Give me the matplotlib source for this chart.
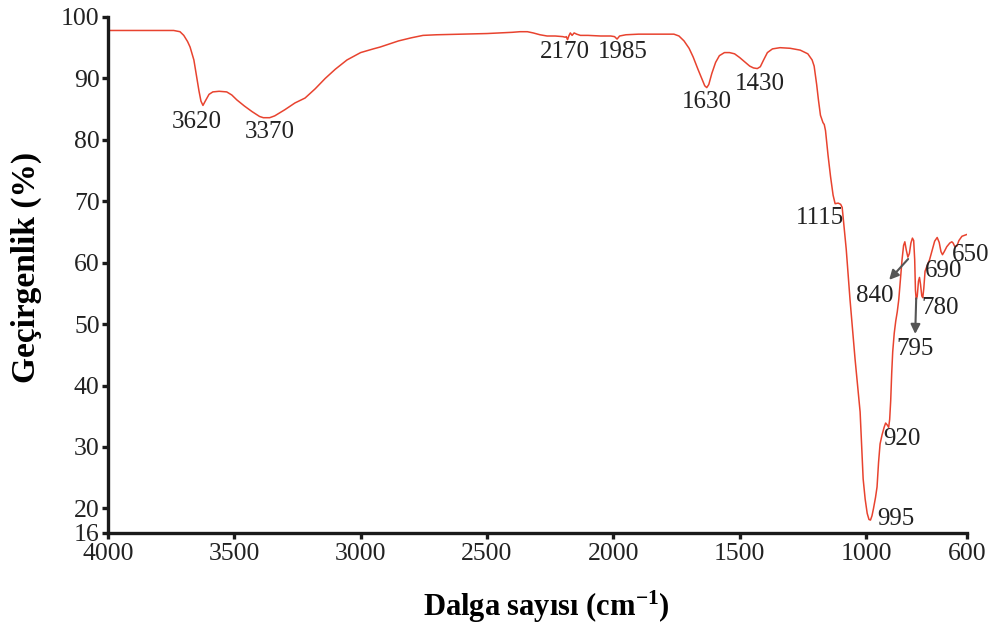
import matplotlib
matplotlib.use("Agg")
import matplotlib.pyplot as plt

plt.rcParams["font.family"] = ["Liberation Serif", "DejaVu Serif"]
plt.rcParams["mathtext.fontset"] = "custom"
plt.rcParams["mathtext.rm"] = "Liberation Serif:bold"
plt.rcParams["mathtext.it"] = "Liberation Serif:bold"
plt.rcParams["mathtext.bf"] = "Liberation Serif:bold"

# FTIR spectrum: wavenumber (cm-1) and transmittance (%)
wavenumber = [
    4000, 3800, 3740, 3715, 3700, 3685, 3675, 3660, 3650, 3640, 3632, 3624,
    3615, 3600, 3585, 3560, 3530, 3510, 3490, 3460, 3430, 3400, 3385, 3360,
    3340, 3300, 3260, 3220, 3180, 3140, 3100, 3054, 3000, 2950, 2923, 2850,
    2800, 2753, 2700, 2600, 2500, 2400, 2369, 2340, 2317, 2290, 2262, 2230,
    2200, 2190, 2186, 2181, 2176, 2170, 2163, 2155, 2145, 2130, 2100, 2050,
    2010, 1995, 1985, 1975, 1950, 1900, 1800, 1760, 1740, 1720, 1700, 1684,
    1665, 1650, 1638, 1630, 1622, 1610, 1595, 1580, 1560, 1540, 1520, 1500,
    1480, 1460, 1445, 1430, 1418, 1405, 1390, 1370, 1340, 1300, 1260, 1230,
    1213, 1205, 1195, 1188, 1180, 1170, 1165, 1160, 1150, 1140, 1130, 1122,
    1110, 1100, 1094, 1078, 1063, 1043, 1023, 1011, 1003, 995, 988, 982,
    976, 970, 962, 956, 950, 944, 936, 928, 922, 916, 910, 906,
    902, 898, 894, 888, 882, 876, 870, 862, 857, 851, 846, 840,
    834, 828, 822, 816, 811, 807, 804, 801, 797, 792, 788, 784,
    779, 775, 771, 766, 758, 748, 738, 728, 718, 710, 703, 697,
    690, 680, 668, 660, 655, 648, 640, 632, 620, 600,
]
transmittance = [
    97.8, 97.8, 97.8, 97.6, 97.0, 96.0, 95.1, 93.0, 90.5, 88.0, 86.3, 85.6,
    86.3, 87.4, 87.8, 87.9, 87.8, 87.3, 86.5, 85.5, 84.6, 83.8, 83.6, 83.6,
    83.9, 84.9, 86.0, 86.8, 88.3, 90.0, 91.5, 93.0, 94.2, 94.8, 95.1, 96.1,
    96.6, 97.0, 97.1, 97.2, 97.3, 97.5, 97.6, 97.6, 97.4, 97.1, 96.9, 96.9,
    96.8, 96.7, 96.8, 96.3, 96.9, 97.4, 97.0, 97.4, 97.2, 97.0, 97.0, 96.9,
    96.9, 96.8, 96.4, 96.9, 97.1, 97.2, 97.2, 97.2, 96.9, 96.1, 94.9, 93.5,
    91.5, 90.0, 88.8, 88.5, 89.0, 90.8, 92.6, 93.7, 94.2, 94.2, 94.0, 93.4,
    92.7, 92.0, 91.7, 91.6, 91.9, 93.0, 94.2, 94.8, 95.0, 94.9, 94.6, 94.0,
    93.0, 92.0, 89.0, 86.5, 84.0, 82.8, 82.5, 81.5, 77.5, 74.0, 71.0, 69.6,
    69.7, 69.5, 69.0, 62.2, 54.0, 44.3, 35.7, 24.8, 21.5, 19.2, 18.2, 18.1,
    18.8, 20.0, 21.8, 23.5, 27.5, 30.5, 32.0, 33.2, 33.9, 33.6, 33.2, 34.5,
    37.5, 42.0, 45.5, 48.5, 50.5, 52.0, 54.0, 58.0, 60.5, 62.8, 63.4, 62.0,
    60.9, 61.5, 63.2, 64.0, 63.6, 60.5, 55.5, 54.0, 54.5, 57.0, 57.6, 56.5,
    54.6, 54.3, 55.8, 58.6, 59.5, 60.5, 62.0, 63.5, 64.1, 63.3, 61.8, 61.3,
    61.8, 62.6, 63.2, 63.4, 63.2, 62.6, 62.7, 63.6, 64.3, 64.6,
]

# Band labels: text and placement (wavenumber, transmittance)
band_labels = ["3620", "3370", "2170", "1985", "1630", "1430", "1115",
               "840", "690", "650", "780", "795", "920", "995"]
label_x = [3648, 3359, 2191, 1961, 1629, 1419, 1181,
           964, 694, 584, 706, 806, 857, 880]
label_y = [82.9, 81.2, 94.3, 94.3, 86.2, 89.1, 67.2,
           54.5, 58.6, 61.2, 52.6, 46.0, 31.3, 18.3]

x_ticks = [4000, 3500, 3000, 2500, 2000, 1500, 1000, 600]
y_ticks = [16, 20, 30, 40, 50, 60, 70, 80, 90, 100]

fig = plt.figure(figsize=(9.97, 6.28), dpi=100)
ax = fig.add_axes([0.1083, 0.1513, 0.8616, 0.8217])

ax.plot(wavenumber, transmittance, color="#e8432f", linewidth=1.1)

ax.set_xlim(4000, 600)
ax.set_ylim(16, 100)
ax.set_xticks(x_ticks)
ax.set_yticks(y_ticks)

for side in ("top", "right"):
    ax.spines[side].set_visible(False)
for side in ("left", "bottom"):
    ax.spines[side].set_linewidth(2.4)
    ax.spines[side].set_color("#1a1a1a")
ax.tick_params(axis="both", direction="out", length=4.5, width=2.4,
               labelsize=18.5, color="#1a1a1a", labelcolor="#222222")
ax.tick_params(axis="x", pad=3)
ax.tick_params(axis="y", pad=1.5)

for txt, lx, ly in zip(band_labels, label_x, label_y):
    ax.text(lx, ly, txt, fontsize=18, ha="center", va="center",
            color="#222222", clip_on=False)

# Arrows pointing to the 840 and 795 bands
ax.annotate("", xy=(908, 57.2), xytext=(833, 60.6),
            arrowprops=dict(arrowstyle="-|>", color="#555555", lw=1.5,
                            mutation_scale=14, shrinkA=0, shrinkB=0))
ax.annotate("", xy=(805, 48.4), xytext=(801, 54.2),
            arrowprops=dict(arrowstyle="-|>", color="#555555", lw=1.5,
                            mutation_scale=14, shrinkA=0, shrinkB=0))

ax.set_xlabel(r"Dalga sayısı (cm$^{-1}$)", fontsize=22, fontweight="bold")
ax.set_ylabel("Geçirgenlik (%)", fontsize=24, fontweight="bold")
ax.xaxis.set_label_coords(0.51, -0.108)
ax.yaxis.set_label_coords(-0.077, 0.514)

fig.savefig("out.png", dpi=100)
